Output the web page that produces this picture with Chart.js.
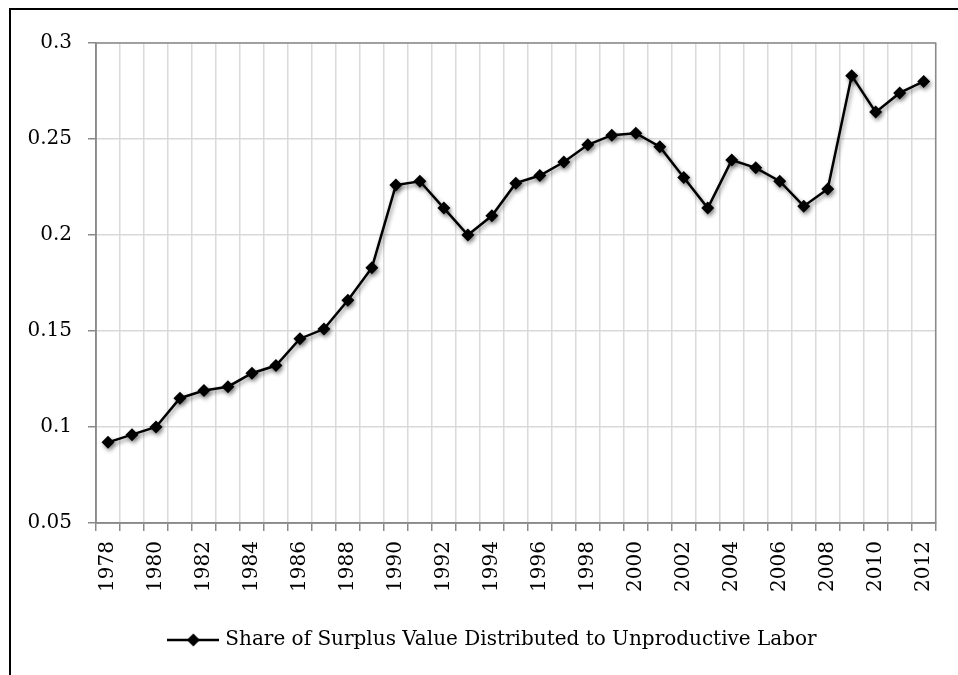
<!DOCTYPE html>
<html>
<head>
<meta charset="utf-8">
<script src="https://cdn.jsdelivr.net/npm/chart.js@4"></script>
<style>
  html, body { margin: 0; padding: 0; background: #fff; }
  #wrap { position: relative; width: 958px; height: 675px; overflow: hidden; }
  #frame { position: absolute; left: 9px; top: 8px; width: 1000px; height: 700px;
           border-top: 2px solid #000; border-left: 2px solid #000; pointer-events: none; }
</style>
</head>
<body>
<div id="wrap">
  <canvas id="chart" width="958" height="675"></canvas>
  <div id="frame"></div>
</div>
<script>
const years = [1978, 1979, 1980, 1981, 1982, 1983, 1984, 1985, 1986, 1987, 1988, 1989,
  1990, 1991, 1992, 1993, 1994, 1995, 1996, 1997, 1998, 1999, 2000, 2001, 2002, 2003,
  2004, 2005, 2006, 2007, 2008, 2009, 2010, 2011, 2012];
const shareUnproductive = [0.092, 0.096, 0.100, 0.115, 0.119, 0.121, 0.128, 0.132, 0.146, 0.151,
  0.166, 0.183, 0.226, 0.228, 0.214, 0.200, 0.210, 0.227, 0.231, 0.238, 0.247, 0.252,
  0.253, 0.246, 0.230, 0.214, 0.239, 0.235, 0.228, 0.215, 0.224, 0.283, 0.264, 0.274, 0.280];
const yTicks = [0.05, 0.1, 0.15, 0.2, 0.25, 0.3];
const seriesName = 'Share of Surplus Value Distributed to Unproductive Labor';

const FONT = '"DejaVu Serif", "Liberation Serif", serif';
const AXIS_GREY = '#8a8a8a';
const GRID_GREY = '#d9d9d9';

// legend sample: line with a diamond in the middle
const legendIcon = document.createElement('canvas');
legendIcon.width = 52;
legendIcon.height = 16;
(() => {
  const c = legendIcon.getContext('2d');
  c.strokeStyle = '#000';
  c.lineWidth = 2.5;
  c.beginPath();
  c.moveTo(0, 8);
  c.lineTo(52, 8);
  c.stroke();
  c.fillStyle = '#000';
  c.beginPath();
  c.moveTo(26, 1.5);
  c.lineTo(32.5, 8);
  c.lineTo(26, 14.5);
  c.lineTo(19.5, 8);
  c.closePath();
  c.fill();
})();

const plotFrame = {
  id: 'plotFrame',
  afterLayout(chart) {
    // let the y labels use the room left of the scale box (legend keeps its centring)
    chart.scales.y.left = 0;
  },
  beforeDatasetsDraw(chart) {
    const { ctx, chartArea: a } = chart;
    ctx.save();
    ctx.strokeStyle = AXIS_GREY;
    ctx.lineWidth = 1.5;
    ctx.strokeRect(a.left, a.top, a.right - a.left, a.bottom - a.top);
    ctx.restore();
    // soft drop shadow under line and markers
    ctx.save();
    ctx.shadowColor = 'rgba(0,0,0,0.45)';
    ctx.shadowBlur = 4;
    ctx.shadowOffsetX = 1.5;
    ctx.shadowOffsetY = 2.5;
  },
  afterDatasetsDraw(chart) {
    chart.ctx.restore();
  }
};

new Chart(document.getElementById('chart'), {
  type: 'line',
  data: {
    labels: years.map(String),
    datasets: [{
      label: seriesName,
      data: shareUnproductive,
      borderColor: '#000',
      backgroundColor: '#000',
      borderWidth: 2.5,
      tension: 0,
      pointStyle: 'rectRot',
      pointRadius: 6.5,
      pointBorderWidth: 0,
      pointBackgroundColor: '#000'
    }]
  },
  options: {
    responsive: false,
    animation: false,
    layout: { padding: { left: 52, right: 22, top: 43, bottom: 15 } },
    plugins: {
      tooltip: { enabled: false },
      legend: {
        position: 'bottom',
        labels: {
          usePointStyle: true,
          pointStyleWidth: 44,
          color: '#000',
          font: { family: FONT, size: 20 },
          generateLabels(chart) {
            return [{
              text: seriesName,
              pointStyle: legendIcon,
              fillStyle: '#000',
              strokeStyle: '#000',
              lineWidth: 0,
              datasetIndex: 0,
              fontColor: '#000'
            }];
          }
        }
      }
    },
    scales: {
      x: {
        type: 'category',
        offset: true,
        grid: { offset: true, color: GRID_GREY, lineWidth: 1.5, tickColor: AXIS_GREY, tickLength: 8 },
        border: { color: AXIS_GREY, width: 1.5 },
        ticks: {
          autoSkip: false,
          minRotation: 90,
          maxRotation: 90,
          padding: 10,
          color: '#000',
          font: { family: FONT, size: 20 },
          callback: (v, i) => (i % 2 === 0 ? String(years[i]) : '')
        },
        afterFit(scale) { scale.height = 97; }
      },
      y: {
        min: 0.05,
        max: 0.3,
        afterBuildTicks(scale) { scale.ticks = yTicks.map(v => ({ value: v })); },
        grid: { color: GRID_GREY, lineWidth: 1.5, tickColor: AXIS_GREY, tickLength: 8 },
        border: { color: AXIS_GREY, width: 1.5 },
        ticks: {
          padding: 16,
          color: '#000',
          font: { family: FONT, size: 20 },
          callback: v => String(+v.toFixed(2))
        },
        afterFit(scale) { scale.width = 44; }
      }
    }
  },
  plugins: [plotFrame]
});
</script>
</body>
</html>
